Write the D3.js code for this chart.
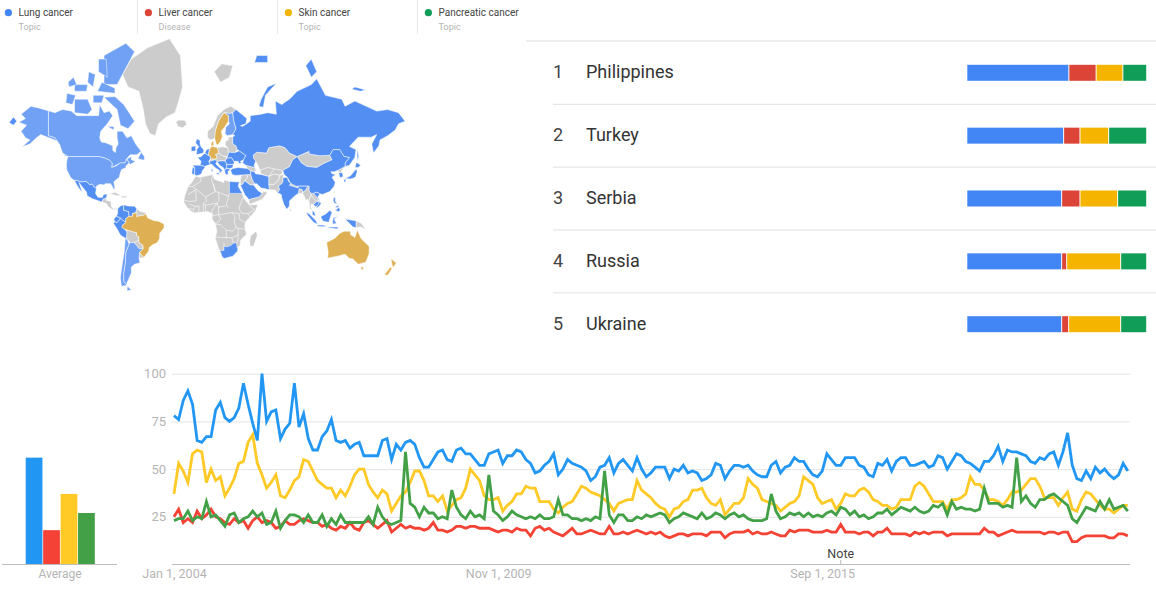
<!DOCTYPE html>
<html>
<head>
<meta charset="utf-8">
<script src="https://cdn.jsdelivr.net/npm/d3@7"></script>
<style>
body { margin: 0; background: #fff; overflow: hidden; }
text { font-family: Roboto, sans-serif; }
</style>
</head>
<body>
<div id="chart"></div>
<script>
// legend
var terms = ["Lung cancer", "Liver cancer", "Skin cancer", "Pancreatic cancer"];
var termTypes = ["Topic", "Disease", "Topic", "Topic"];

// monthly interest, Jan 2004 onwards
var lung = [78,76,86,91,84,65,64,67,67,81, 85,77,75,77,82,95,84,74,65,100,
  75,80,81,66,71,74,95,72,79,66, 60,60,67,70,76,65,64,65,61,63,
  64,57,57,57,57,65,66,55,63,60, 64,65,63,56,51,51,55,59,60,55,
  54,60,61,58,58,55,52,52,58,59, 60,53,57,57,60,59,55,53,48,49,
  52,54,58,47,50,55,53,52,51,49, 44,46,51,52,56,48,53,55,52,49,
  56,50,46,48,51,51,51,45,50,49, 52,48,49,48,44,45,47,53,52,45,
  49,52,52,51,52,49,47,46,46,52, 54,48,51,52,56,54,54,50,47,46,
  49,58,55,52,52,56,56,56,52,51, 47,46,53,52,55,49,54,56,56,52,
  52,53,54,51,52,57,56,50,54,58, 57,54,53,51,49,54,54,57,62,54,
  60,59,59,58,57,54,53,56,55,58, 59,52,59,69,52,45,44,49,45,51,
  48,50,47,45,47,53,49];
var liver = [25,29,22,24,22,28,24,26,29,25, 24,22,21,24,22,23,19,23,25,22,
  23,22,19,20,23,21,21,23,24,23, 22,22,20,21,19,18,20,19,22,19,
  18,22,23,21,19,21,23,17,19,21, 19,20,19,19,18,19,22,18,18,17,
  18,20,20,19,20,20,19,19,19,18, 17,18,18,17,19,18,18,15,19,20,
  18,19,17,16,15,17,19,16,16,17, 18,17,16,16,20,16,16,17,16,17,
  18,17,16,17,16,17,15,14,15,16, 16,15,16,16,16,15,17,17,17,14,
  16,17,17,17,18,16,17,16,16,17, 16,15,15,18,17,18,18,18,17,17,
  17,18,17,17,21,17,17,17,16,17, 17,15,17,17,19,16,16,16,16,15,
  17,16,17,16,17,17,17,15,16,16, 16,16,16,16,16,19,17,17,15,16,
  17,18,17,17,17,17,17,17,16,17, 17,16,17,17,12,12,14,15,15,15,
  15,15,14,14,16,16,15];
var skin = [37,53,49,43,58,60,59,43,50,44, 46,36,40,45,53,54,64,68,53,47,
  40,43,47,36,35,39,44,46,55,54, 49,44,42,40,40,35,39,36,41,47,
  50,50,42,38,35,39,37,28,32,36, 38,43,49,49,44,36,36,33,36,28,
  31,34,35,40,50,47,44,36,34,34, 35,28,31,33,37,37,41,40,40,33,
  33,33,29,27,30,32,33,37,41,40, 38,37,36,34,32,28,32,33,34,34,
  44,39,37,35,32,30,29,25,29,30, 33,34,39,39,40,35,32,31,34,26,
  29,32,32,35,45,42,40,34,33,32, 31,28,30,32,33,36,46,44,42,35,
  32,33,34,29,32,37,36,36,39,40, 38,34,33,31,31,29,30,34,34,34,
  41,43,41,37,33,33,33,29,34,34, 35,37,46,42,42,39,34,34,33,31,
  34,38,38,39,42,45,45,41,35,35, 35,31,35,38,29,28,34,38,37,34,
  31,29,29,27,29,31,31];
var pancreatic = [23,24,24,28,23,25,24,33,25,26, 23,20,26,27,22,24,25,28,25,27,
  21,22,28,19,23,26,26,25,22,26, 22,22,26,20,24,21,26,22,22,22,
  22,22,25,21,30,25,22,21,22,23, 59,32,30,25,30,27,27,24,25,24,
  39,30,26,24,28,25,26,24,47,28, 26,23,25,28,26,25,24,25,24,26,
  24,24,25,34,26,26,24,24,23,24, 23,25,24,49,26,22,26,26,23,23,
  25,24,26,25,26,27,26,22,24,25, 27,26,25,24,27,24,25,27,26,24,
  26,27,25,26,24,23,23,23,24,37, 28,24,25,27,26,27,25,27,25,26,
  25,27,28,26,30,29,26,28,25,26, 24,25,27,27,29,26,28,30,29,28,
  30,28,27,28,31,30,32,26,33,29, 30,29,29,28,29,40,32,32,32,30,
  31,30,56,33,36,32,30,34,34,36, 37,35,33,31,24,22,26,30,29,28,
  33,29,34,29,30,31,28];
var averages = [56, 18, 37, 27];
var yTicks = [25, 50, 75, 100];
var xTickMonths = [0, 70, 140];
var xTickLabels = ["Jan 1, 2004", "Nov 1, 2009", "Sep 1, 2015"];
var noteMonth = 144;

// top regions, share of each term in %
var regions = ["Philippines", "Turkey", "Serbia", "Russia", "Ukraine"];
var regionShares = [
  [56.6, 15.2, 14.9, 13.3],
  [53.7, 9.1, 16.0, 21.2],
  [52.6, 10.2, 21.0, 16.2],
  [52.6, 2.8, 30.1, 14.5],
  [52.6, 3.9, 29.0, 14.5]
];

// map outlines, lon/lat
var mapNone = [
  [[-73,78.5],[-65,81],[-50,82.5],[-30,83.5],[-20,81.5],[-18,76],[-22,72],[-25,69],[-33,67.5],[-40,65],[-43,60],[-48,61],[-52,65],[-54,70],[-58,75],[-68,76]],
  [[-92,14.5],[-91,17],[-88,18],[-88,16],[-83.5,15],[-83.5,11],[-82,9],[-77.5,8.5],[-80,7.5],[-83,8.3],[-86,10],[-87.5,13]],
  [[-85,22],[-80,23],[-74,20],[-78,20]],
  [[-74,19.8],[-69,19.5],[-69,18.3],[-74,18.2]],
  [[-60,8.5],[-57,6],[-52,5],[-51.5,4],[-54,2.2],[-58,2],[-60,1],[-60,5],[-61,5]],
  [[-69,-11],[-65,-12],[-60,-13.5],[-60,-16],[-58,-17],[-58,-20],[-62.5,-22],[-66,-22],[-69,-19],[-69.5,-17.5],[-69,-12.5]],
  [[-58,-20],[-58,-22],[-54.5,-24],[-54.5,-27],[-58,-27],[-60,-24.5],[-62.5,-22]],
  [[-57.5,-30],[-53.5,-34],[-58,-34.5]],
  [[-6,35.8],[-2,35],[10,37],[11,33.5],[15,32.3],[20,31],[20,33],[25,31.7],[32,31],[34,31.3],[33,28],[35.5,24],[37,21],[38,18],[43,12],[51,12],[49,7],[44,1],[40,-3],[39,-7],[40.5,-15],[35,-20],[35,-24],[32.5,-26],[32.5,-29],[28,-33],[20,-34.8],[18,-33],[15,-27],[12,-18],[13.5,-12],[12,-5],[9,-1],[9.5,4],[5,6],[-4,5],[-8,4.5],[-13,8.5],[-17,14.7],[-16,20],[-13,27.5],[-9.5,31]],
  [[49.5,-12],[50.5,-16],[47,-25],[44,-25],[43.5,-21],[44.5,-16]],
  [[5,59],[5,62],[10,64],[14,68],[20,70],[26,71],[31,70],[28,69],[25,68.7],[20,69],[15,66],[12,62],[12,59],[8,58]],
  [[-24,65.5],[-22,64],[-18,63.4],[-14,64.8],[-16,66.4],[-22,66.4]],
  [[11,79],[17,77],[25,78],[28,80],[18,80.3]],
  [[7.5,47.6],[13,47.5],[13.5,48.7],[12,50.2],[15,51],[18.8,49.5],[22.5,48.5],[21,46.2],[16.5,46.3],[13.7,45.7],[12,47],[6.8,46]],
  [[14,54],[19,54.5],[23.5,54],[24,50.5],[22.5,48.8],[18.8,49.5],[15,51]],
  [[21,55.5],[21.5,57.5],[24,58],[23.5,59.3],[28,59.5],[28,56],[31,55],[32,53],[30,51.3],[24,51.5],[23.5,54]],
  [[47,50],[50,51.5],[59,51],[61,54],[71,55],[76,54],[80,51],[87,49],[83,47],[80,42.5],[74,40],[73,37.5],[71,36.5],[66,37.3],[61,35.5],[54,37.5],[53,40],[52,42],[50,45],[49,46.3],[47,48]],
  [[87,49],[98,52],[98,50.5],[108,49.5],[117,49.7],[119,47],[112,44.8],[105,42],[96,42.7],[91,45]],
  [[124.5,40],[128,41.5],[130.5,42.5],[127.5,39.5],[128.3,38.5],[125,38]],
  [[120,23],[121.5,25],[121,22]],
  [[61,25],[67,24.8],[69,22.5],[71,25],[70,28],[74,31],[74,34.5],[75,37],[71,36.5],[70,33],[66,29.5],[61,29.5]],
  [[61,35.5],[66,37.3],[71,36.5],[70,33],[66,29.5],[61,29.5]],
  [[88,22],[89,26],[92,25],[92,22]],
  [[80,28.7],[88,26.5],[88,28],[81,30.3]],
  [[44.5,37],[46,33],[48,30],[47,29],[44,29],[39,32.2],[41,34.5],[42,37]],
  [[36,36.7],[42,37],[41,34.5],[39,32.2],[37,29.5],[35,29.5],[35,33]],
  [[43,16.5],[45,17.3],[52,19],[55,22],[56,24],[59.8,22.5],[55,17],[45,13],[43,12.7]],
  [[40,43.5],[45,42.5],[48.5,41.8],[49.5,40],[48,39],[44.5,39.5],[41.5,41.2]],
  [[92,22],[94,24],[97,28],[98,28],[98,24],[100,22],[98,16],[98.5,10],[97,17],[94.5,16],[94,19]],
  [[100,20.5],[102,18],[105,15],[102,12],[100,13],[99.5,10],[101,7],[99,8],[98.5,10],[98,16]],
  [[100,22],[102,22],[105,19],[107,16],[105,15],[102,18],[100,20.5]],
  [[141,-2.6],[146,-5],[150,-10.5],[145,-8],[141,-9]],
  [[80,9.5],[82,7],[80.5,6]]
];
var mapLungLight = [
  [[-141,69.6],[-135,69],[-128,70],[-120,69.5],[-115,68],[-108,68],[-100,68],[-95,68],[-94,71.5],[-90,69],[-85,69.5],[-82,68],[-87,65],[-93,62],[-94,59],[-92.5,57],[-88,56.5],[-82,55],[-82,52.5],[-79.5,51.3],[-79,54],[-77,56],[-78,59],[-78,62],[-73,62],[-69,59],[-65,60],[-61,56],[-56,52],[-60,50],[-66,50],[-70,47],[-65,49],[-65,47],[-61,46],[-66,44],[-67,45],[-69,47.3],[-71,45],[-75,45],[-79,43.5],[-83,42],[-82.5,45],[-85,46.7],[-89,48],[-95,49],[-123,49],[-128,51],[-130,54.5],[-135,59],[-141,60]],
  [[-141,69.6],[-141,60],[-135,59],[-130,55],[-133,57.5],[-148,60.5],[-152,59],[-158,56],[-165,54.5],[-158,58],[-162,59],[-166,62],[-161,64.5],[-168,65.6],[-162,67],[-166,68.5],[-157,71],[-150,70.5]],
  [[-123,49],[-95,49],[-89,48],[-85,46.7],[-82.5,45],[-83,42],[-79,43],[-75,45],[-71,45],[-69,47.3],[-67,45],[-70,43],[-70,41.7],[-74,40.5],[-75.5,37],[-76,35],[-81,31.5],[-80,26],[-81,25],[-82.5,28],[-84,30],[-89,30],[-90,29],[-94,29.5],[-97,28],[-97,26],[-99.5,27.5],[-101,29.7],[-103,29],[-106.5,31.8],[-111,31.3],[-114.7,32.5],[-117,32.5],[-120.5,34.5],[-122,37],[-124,40],[-124.5,43],[-124,47]],
  [[-62,66],[-68,63],[-75,64.5],[-78,70],[-90,73.5],[-80,73.7],[-72,71.5],[-67,69]],
  [[-117,69],[-105,68.5],[-101,70],[-105,73],[-117,73]],
  [[-125,72],[-119,71.5],[-116,74],[-124,74.5]],
  [[-90,76.5],[-78,76.5],[-62,82],[-70,83],[-90,81.5]],
  [[-96,75],[-80,74.5],[-80,75.7],[-92,77]],
  [[-95,79],[-87,78],[-88,81],[-95,81]],
  [[-117,75],[-106,75],[-105,76.5],[-117,76.5]],
  [[-100,72],[-92,72],[-90,74],[-100,74]],
  [[-122,76],[-115,76.5],[-118,78],[-123,77]],
  [[-105,77],[-100,76],[-98,78.5],[-104,79]],
  [[-87,64],[-81,64],[-81,62.5]],
  [[-59,47.7],[-53,46.7],[-53,49],[-56,51.5]],
  [[-128,50.5],[-125,50],[-123.5,48.5]],
  [[24,66],[24,68],[20,69],[25,68.7],[28,69],[29,66],[31,63],[28,60.5],[23,60],[21,61],[21.5,63.5],[25,65]],
  [[-66,-22],[-62.5,-22],[-60,-24.5],[-58,-27],[-54,-27],[-57.5,-30],[-58,-34.5],[-57,-38],[-62,-39],[-65,-41],[-65,-45],[-69,-51],[-69,-52.3],[-72,-50],[-72,-45],[-70.5,-38],[-70,-30],[-67,-23]],
  [[-70.5,-18.3],[-69,-19],[-67,-23],[-70,-30],[-70.5,-38],[-72,-45],[-72,-50],[-69,-52.3],[-74,-53],[-75,-48],[-73.5,-40],[-71.5,-30]],
  [[-68.5,-52.7],[-65,-55],[-69,-55.3]]
];
var mapLungDark = [
  [[-117,32.5],[-114.7,32.5],[-111,31.3],[-106.5,31.8],[-103,29],[-101,29.7],[-99.5,27.5],[-97,26],[-97.8,22],[-95.5,18.7],[-91.5,18.5],[-90.5,21],[-87,21.5],[-88,18],[-91,17],[-92,14.5],[-96,15.8],[-101,17.5],[-105.5,20],[-106,23],[-110,27.5],[-113,31],[-110,23],[-112,25],[-115,29]],
  [[-77.5,8.5],[-75,11],[-72,12],[-72,7],[-67.5,6],[-67,1.5],[-70,-0.5],[-70,-4],[-73,-2],[-75,0],[-78.8,1.5],[-77.5,4]],
  [[-72,12],[-68,11],[-62,10.7],[-60,8.5],[-61,5],[-64,4],[-64,1.5],[-67,1.5],[-67.5,6],[-72,7]],
  [[-78.8,1.5],[-75,0],[-75.5,-1.5],[-78.5,-4.5],[-80.2,-3.4],[-81,-1]],
  [[-80.2,-3.4],[-78.5,-4.5],[-75.5,-1.5],[-75,0],[-73,-2],[-70,-4],[-73.5,-7],[-70.5,-11],[-69,-12.5],[-69.5,-17.5],[-70.5,-18.3],[-75,-15.5],[-78,-10],[-81.3,-5]],
  [[-5.5,50],[1,51],[1.5,52.8],[-1,54.5],[-2,56],[-2,57.7],[-5,58.6],[-6,56.5],[-3,54.5],[-5,53],[-5,51.7]],
  [[-10,52],[-6,52.2],[-6,55],[-10,54.5]],
  [[-4.5,48.5],[-1.5,48.7],[2.5,51],[6,49.5],[8,49],[7.5,47.6],[6,46],[7.5,44],[3,43],[3,42.5],[-1.8,43.4],[-1,46]],
  [[2.5,51],[4,53],[7,53.5],[6,51],[6,49.5]],
  [[-9,43.5],[-1.8,43.4],[3,42.5],[0,39.5],[-0.5,38],[-2,36.8],[-5.5,36],[-7,37.2],[-7,42]],
  [[-7,42],[-7,37.2],[-9,37],[-9.5,38.7],[-8.8,42]],
  [[7,44],[6.8,46],[12,47],[13.7,45.7],[12.3,44.5],[16,41.8],[18.5,40],[16.5,38.5],[15.7,38],[15.7,40],[12.5,41.5],[10.3,43],[8.5,44.3]],
  [[12.5,38],[15.5,38.2],[15,36.7]],
  [[8.3,41],[9.7,41],[9.5,39],[8.5,39]],
  [[24,50.5],[24,51.5],[30,51.3],[34,52.3],[40,49.6],[38,47],[35,46],[36,45],[33.5,44.5],[33,46],[30,46],[28,45.5],[29.5,45.3],[27,48.2],[22.5,48]],
  [[21,46.2],[22.5,48],[27,48.2],[29.5,45.3],[28.5,44],[22.5,44]],
  [[13.7,45.7],[16.5,46.3],[21,46.2],[22.5,44],[22.5,42],[20.5,40],[19.5,41.8],[16,43.5],[14.5,45]],
  [[22.5,44],[28.5,44],[28,42],[26,41.3],[22.5,41.2]],
  [[20.5,40],[22.5,41.2],[26,41],[23.5,39],[24,38],[22.5,36.5],[21,38]],
  [[26,40],[28,41.2],[33,42],[41.5,41.2],[44.5,39.5],[44.5,37],[36,36.7],[30.5,36.3],[27.5,37]],
  [[28,59.5],[30,60],[28,60.5],[31,63],[29,66],[28,69],[31,70],[41,67],[40,65],[35,64.3],[37,64],[44,66],[44,68],[54,68.5],[60,69],[68,68.5],[67,72.5],[73,71.5],[75,72],[80,73],[87,75],[100,76.5],[105,77.7],[113,74],[128,73],[131,71],[140,72.5],[160,69.5],[170,70],[180,69],[186,66],[180,65],[177,62.5],[170,60],[163,58],[162,55],[157,51],[155.5,56],[160,60.5],[155,59.3],[143,59.3],[135,54.7],[141,53],[140,48.5],[135,43.5],[131,42.7],[131,45],[135,48.4],[130,49],[126,53],[120,53],[117,49.7],[108,49.5],[98,50.5],[98,52],[87,49],[80,51],[76,54],[71,55],[61,54],[59,51],[50,51.5],[47,50],[47,48],[49,46.3],[47.5,43],[48.5,41.8],[45,42.5],[40,43.5],[37,45],[38,47],[40,49.6],[34,52.3],[32,53],[31,55],[28,56]],
  [[-177,65.5],[-173,67.5],[-170,66],[-173,64.5]],
  [[142,54],[143.5,49],[142.5,46],[142,50]],
  [[52,71],[56,70.7],[58,74],[68,76.8],[60,76],[54,73]],
  [[95,80],[100,78],[105,79],[100,81]],
  [[137,75.5],[145,75],[150,75.3],[140,76]],
  [[48,80.5],[60,80.5],[60,81.5],[50,81.5]],
  [[74,40],[80,42.5],[83,47],[87,49],[91,45],[96,42.7],[105,42],[112,44.8],[119,47],[117,49.7],[120,53],[126,53],[130,49],[135,48.4],[131,45],[131,42.7],[128,41.5],[124.5,40],[121,39],[118,39],[119,37.5],[122.5,37],[119,35],[122,31],[121,28],[117,23.5],[110,21],[108,21.6],[105,23],[102,22],[100,22],[98,24],[98,28],[92,28],[86,28],[81,30.3],[78,35],[75,37]],
  [[125,38],[128.3,38.5],[129.3,35.5],[126.5,34.5]],
  [[131,34],[136,36],[140,40],[141.5,41],[142,39],[140.5,35],[136,33.7]],
  [[140,42],[141.5,45.4],[145.3,43.5],[143,42]],
  [[130,33.5],[132,33],[131,31],[130,31.5]],
  [[74,34.5],[78,35],[79,32],[81,30.3],[80,28.7],[88,26.5],[88,28],[92,28],[97,28],[94,24],[92,23],[92,25],[89,26],[88,22],[85,20],[80,15.5],[80,11],[77.5,8],[75,12],[73,18],[72.5,21],[69,22.5],[71,25],[70,28],[74,31]],
  [[44.5,39.5],[48,39],[49,37.5],[54,37],[61,35.5],[61,29.5],[61.5,25],[57,26],[54,26.5],[50,30],[48,30],[46,33],[44.5,37]],
  [[35,29],[37,29.5],[39,32.2],[44,29],[47,29],[51,24.5],[55,22],[52,19],[45,17.3],[43,16.5],[39,21],[35.5,28]],
  [[25,31.7],[34,31.3],[33,28],[35.5,24],[37,22],[25,22]],
  [[16.5,-28.6],[20,-28.4],[20,-25],[23,-25.5],[26,-24.5],[29,-22.3],[31.5,-22.3],[32,-26],[32.5,-27],[32.5,-29],[28,-33],[20,-34.8],[18,-33]],
  [[102,22],[105,23],[108,21.6],[106,19],[109,13],[107,10.5],[105,9],[105,11],[107.5,14.5],[107,16],[105,19]],
  [[102,12],[105,15],[107.5,14.5],[105.5,11],[104,10.5]],
  [[101,7],[103,5],[104,1.5],[101,3]],
  [[109,1.5],[113,3.5],[117,7],[119,5],[117.5,1],[116,-4],[111,-3],[109,0]],
  [[95,5.5],[98,4],[104,-2],[106,-6],[102,-4],[97,2]],
  [[105.5,-6.5],[111,-6.5],[114.5,-8],[106,-7.7]],
  [[119.5,-5.5],[120,0],[125,1.5],[121,-1],[123,-5]],
  [[115,-8.3],[125,-8.3],[123.5,-10],[116,-9]],
  [[131,-1],[141,-2.6],[141,-9],[138,-8],[134,-4]],
  [[120,16],[120.5,18.5],[122,18.5],[122,15],[124,13],[121,13.5]],
  [[122,7],[125.5,9.8],[126.5,7],[125,5.8]],
  [[122,10],[125,12],[125,10],[122.7,9.3]]
];
var mapSkin = [
  [[-60,5],[-60,1],[-58,2],[-54,2.2],[-51.5,4],[-50,0],[-44,-2.5],[-40,-3],[-35,-5.5],[-35,-9],[-39,-14],[-39,-18],[-41,-22],[-45,-23.5],[-48.5,-26],[-49,-29],[-53.5,-34],[-57.5,-30],[-54,-27],[-54.5,-24],[-58,-22],[-58,-17],[-60,-16],[-60,-13.5],[-65,-12],[-69,-11],[-73.5,-9],[-73.5,-7],[-70,-4],[-70,-0.5],[-67,1.5],[-64,1.5],[-64,4]],
  [[11.5,59],[12,62],[15,66],[20,69],[24,68],[24,66],[21,64],[17.5,62],[18.5,59.5],[16.5,57],[14,55.5],[12.7,56]],
  [[8,55],[8.5,57],[10.5,57.5],[10.5,55]],
  [[6,51],[7,53.5],[9,54.8],[14,54],[15,51],[12,50.2],[13.5,48.7],[13,47.5],[7.5,47.6],[8,49],[6,49.5]],
  [[114,-22],[122,-18],[126,-14],[130,-12],[136,-12],[136,-15],[140,-17.5],[142,-11],[146,-19],[153,-25],[153,-31],[150,-37.5],[143,-39],[138,-35],[135,-34.8],[131,-31.5],[124,-33],[115,-34.5],[115.5,-30]],
  [[145,-41],[148,-41],[147,-43.5]],
  [[173,-35],[178,-38],[175,-41.5],[174,-39]],
  [[172.5,-41],[174,-42],[170,-46.5],[167,-46]]
];
// inner borders of the grey countries
var mapBorders = [
  [[-2,35],[-1,32],[-8.7,27.7],[-13,27.5]],
  [[-8.7,27.7],[-4.8,25],[3,19],[12,23.5],[10,30],[8.5,33],[10,37]],
  [[10,30],[12,23.5],[15,23],[24,19.5],[25,22]],
  [[-16.5,16],[-12,15],[-5.5,15.5],[-6,25],[-13,21]],
  [[3,19],[4,15],[1,13],[3,11.7],[3,6.3]],
  [[15,23],[15.5,16],[13.5,13.5],[3,11.7]],
  [[24,19.5],[23.5,16],[22,13],[24,9]],
  [[37,18],[36,14.5],[34,10],[34,8],[36,4.5],[41.5,4],[44,1]],
  [[13.5,13.5],[9,7],[8.7,4.5]],
  [[15,10],[22,11]],
  [[13.5,13.5],[15,10],[15,3],[9.7,2.3]],
  [[15,3],[19,3.5],[27,5],[34,4]],
  [[34,4],[34,-1],[39.5,-4.7]],
  [[27,5],[30,2],[29.5,-4],[31,-8.5],[28,-12],[22,-11],[22,-13]],
  [[13,-6],[17,-6],[22,-11]],
  [[15,3],[17,-1],[14,-4.5],[12,-5]],
  [[12,-17.2],[23,-17.7]],
  [[20,-22],[20,-28.4]],
  [[22,-13],[22,-17.5],[27,-17.8],[33,-15.5],[33,-9.5],[31,-8.5]],
  [[27,-17.8],[29,-22.3]],
  [[33,-15.5],[32.7,-21],[31.5,-22.3]],
  [[33,-9.5],[40.5,-10.5]],
  [[-8,4.5],[-8,8],[-5.5,10.5],[-3,11],[-3,5]],
  [[1,6],[1,13]],
  [[-12,12.5],[-5.5,10.5]],
  [[-8,8],[-13,8.5]],
  [[41.5,4],[44,5],[48,8],[43,11]],
  [[53,40],[60,42],[66,41],[73,40]],
  [[61,35.5],[66,41]]
];

var termColors = ["#4285f4", "#db4437", "#f4b400", "#0f9d58"];
var lineColors = ["#2196f3", "#f44336", "#ffc926", "#43a047"];
var mapFills = { none: "#cccccc", light: "#6fa1f5", dark: "#538ff2", skin: "#dfb052" };
var greyText = "#b4b4b4";

var svg = d3.select("#chart").append("svg")
    .attr("width", 1156)
    .attr("height", 596)
    .style("display", "block");

// the source is a slightly soft screenshot
var defs = svg.append("defs");
defs.append("filter").attr("id", "softMap")
    .append("feGaussianBlur").attr("stdDeviation", 0.4);
defs.append("filter").attr("id", "softLine")
    .attr("filterUnits", "userSpaceOnUse")
    .attr("x", 0).attr("y", 340).attr("width", 1156).attr("height", 256)
    .append("feGaussianBlur").attr("stdDeviation", 0.3);

// ---- legend ----
var legendX = d3.scaleLinear().domain([0, 1]).range([8.4, 148.4]);

var legend = svg.selectAll("g.term")
    .data(terms)
    .enter()
    .append("g")
    .attr("class", "term")
    .attr("transform", function(d, i) { return "translate(" + legendX(i) + ",0)"; });

legend.append("circle")
    .attr("cy", 12.7)
    .attr("r", 3.6)
    .style("fill", function(d, i) { return termColors[i]; });

legend.append("text")
    .attr("x", 10.2)
    .attr("y", 16)
    .style("font-size", "10px")
    .style("fill", "#444")
    .text(function(d) { return d; });

legend.append("text")
    .attr("x", 10.2)
    .attr("y", 30)
    .style("font-size", "9px")
    .style("fill", greyText)
    .text(function(d, i) { return termTypes[i]; });

legend.filter(function(d, i) { return i > 0; })
    .append("line")
    .attr("x1", -11).attr("x2", -11)
    .attr("y1", 0).attr("y2", 34)
    .style("stroke", "#e8e8e8");

// ---- map ----
// raw mercator so the far east of Russia can run past 180 degrees
var mapK = 62.5, mapX0 = 202.2, mapY0 = 218;
var rad = Math.PI / 180;

function mapPoint(d) {
  var p = d3.geoMercatorRaw(d[0] * rad, d[1] * rad);
  return [mapX0 + mapK * p[0], mapY0 - mapK * p[1]];
}

var toLine = d3.line()
    .x(function(d) { return mapPoint(d)[0]; })
    .y(function(d) { return mapPoint(d)[1]; });

var map = svg.append("g").attr("filter", "url(#softMap)");

function drawLand(rings, fill) {
  map.append("g").selectAll("path")
      .data(rings)
      .enter()
      .append("path")
      .attr("d", function(d) { return toLine(d) + "Z"; })
      .style("fill", fill)
      .style("stroke", "#fff")
      .style("stroke-width", 0.5);
}

drawLand(mapNone, mapFills.none);
map.append("g").selectAll("path")
    .data(mapBorders)
    .enter()
    .append("path")
    .attr("d", toLine)
    .style("fill", "none")
    .style("stroke", "#fff")
    .style("stroke-width", 0.6);
drawLand(mapLungLight, mapFills.light);
drawLand(mapLungDark, mapFills.dark);
drawLand(mapSkin, mapFills.skin);

// ---- ranked regions ----
var rowY = d3.scalePoint().domain(d3.range(regions.length)).range([72.8, 324.2]);
var shareX = d3.scaleLinear().domain([0, 100]).range([967.3, 1146.7]);

svg.append("line")
    .attr("x1", 526).attr("x2", 1156)
    .attr("y1", 41).attr("y2", 41)
    .style("stroke", "#e0e0e0");

var rows = svg.selectAll("g.row")
    .data(regions)
    .enter()
    .append("g")
    .attr("class", "row")
    .attr("transform", function(d, i) { return "translate(0," + rowY(i) + ")"; });

rows.filter(function(d, i) { return i < regions.length - 1; })
    .append("line")
    .attr("x1", 553).attr("x2", 1156)
    .attr("y1", 31.5).attr("y2", 31.5)
    .style("stroke", "#e0e0e0");

rows.append("text")
    .attr("x", 553)
    .attr("y", 5.5)
    .style("font-size", "18px")
    .style("fill", "#444")
    .text(function(d, i) { return i + 1; });

rows.append("text")
    .attr("x", 586)
    .attr("y", 5.5)
    .style("font-size", "18px")
    .style("fill", "#333")
    .text(function(d) { return d; });

rows.each(function(d, i) {
  var from = 0;
  var segs = regionShares[i].map(function(v, k) {
    var s = { start: from, end: from + v, k: k };
    from += v;
    return s;
  });
  d3.select(this).selectAll("rect")
      .data(segs)
      .enter()
      .append("rect")
      .attr("x", function(s) { return shareX(s.start) + (s.k > 0 ? 0.5 : 0); })
      .attr("y", -8)
      .attr("width", function(s) { return shareX(s.end) - shareX(s.start) - (s.k > 0 ? 1 : 0.5); })
      .attr("height", 16)
      .style("fill", function(s) { return termColors[s.k]; });
});

// ---- time series ----
var x = d3.scaleLinear().domain([0, lung.length - 1]).range([174, 1127.8]);
var y = d3.scaleLinear().domain([0, 100]).range([564.5, 373.7]);

var yAxis = d3.axisLeft(y)
    .tickValues(yTicks)
    .tickSize(-958)
    .tickPadding(6);

var yG = svg.append("g")
    .attr("transform", "translate(172,0)")
    .call(yAxis);
yG.select(".domain").remove();
yG.selectAll("line").style("stroke", "#e4e4e4").style("stroke-width", 1);
yG.selectAll("text")
    .style("font-family", "Roboto, sans-serif")
    .style("font-size", "13px")
    .style("fill", greyText);

var xAxis = d3.axisBottom(x)
    .tickValues(xTickMonths)
    .tickFormat(function(d, i) { return xTickLabels[i]; })
    .tickSize(0)
    .tickPadding(5);

var xG = svg.append("g")
    .attr("transform", "translate(0,564.5)")
    .call(xAxis);
xG.select(".domain").remove();
xG.selectAll("text")
    .style("font-family", "Roboto, sans-serif")
    .style("font-size", "12.5px")
    .style("fill", greyText);

svg.append("line")
    .attr("x1", 172).attr("x2", 1130)
    .attr("y1", 564.5).attr("y2", 564.5)
    .style("stroke", "#bdbdbd");

var trend = d3.line()
    .x(function(d, i) { return x(i); })
    .y(function(d) { return y(d); });

svg.append("g")
    .attr("filter", "url(#softLine)")
    .selectAll("path.trend")
    .data([lung, liver, skin, pancreatic])
    .enter()
    .append("path")
    .attr("class", "trend")
    .attr("d", trend)
    .style("fill", "none")
    .style("stroke", function(d, i) { return lineColors[i]; })
    .style("stroke-width", 2.8)
    .style("stroke-linejoin", "miter");

svg.append("line")
    .attr("x1", x(noteMonth)).attr("x2", x(noteMonth))
    .attr("y1", 560).attr("y2", 564.5)
    .style("stroke", "#bdbdbd");

svg.append("text")
    .attr("x", x(noteMonth))
    .attr("y", 558)
    .attr("text-anchor", "middle")
    .style("font-size", "12.5px")
    .style("fill", "#444")
    .text("Note");

// ---- averages ----
var barX = d3.scaleBand().domain(d3.range(averages.length)).range([25, 95.5]).padding(0.04);

svg.selectAll("rect.avg")
    .data(averages)
    .enter()
    .append("rect")
    .attr("class", "avg")
    .attr("x", function(d, i) { return barX(i); })
    .attr("y", function(d) { return y(d); })
    .attr("width", barX.bandwidth())
    .attr("height", function(d) { return y(0) - y(d); })
    .style("fill", function(d, i) { return lineColors[i]; });

svg.append("line")
    .attr("x1", 2).attr("x2", 117)
    .attr("y1", 564.5).attr("y2", 564.5)
    .style("stroke", "#bdbdbd");

svg.append("text")
    .attr("x", 60)
    .attr("y", 578)
    .attr("text-anchor", "middle")
    .style("font-size", "12px")
    .style("fill", greyText)
    .text("Average");
</script>
</body>
</html>
